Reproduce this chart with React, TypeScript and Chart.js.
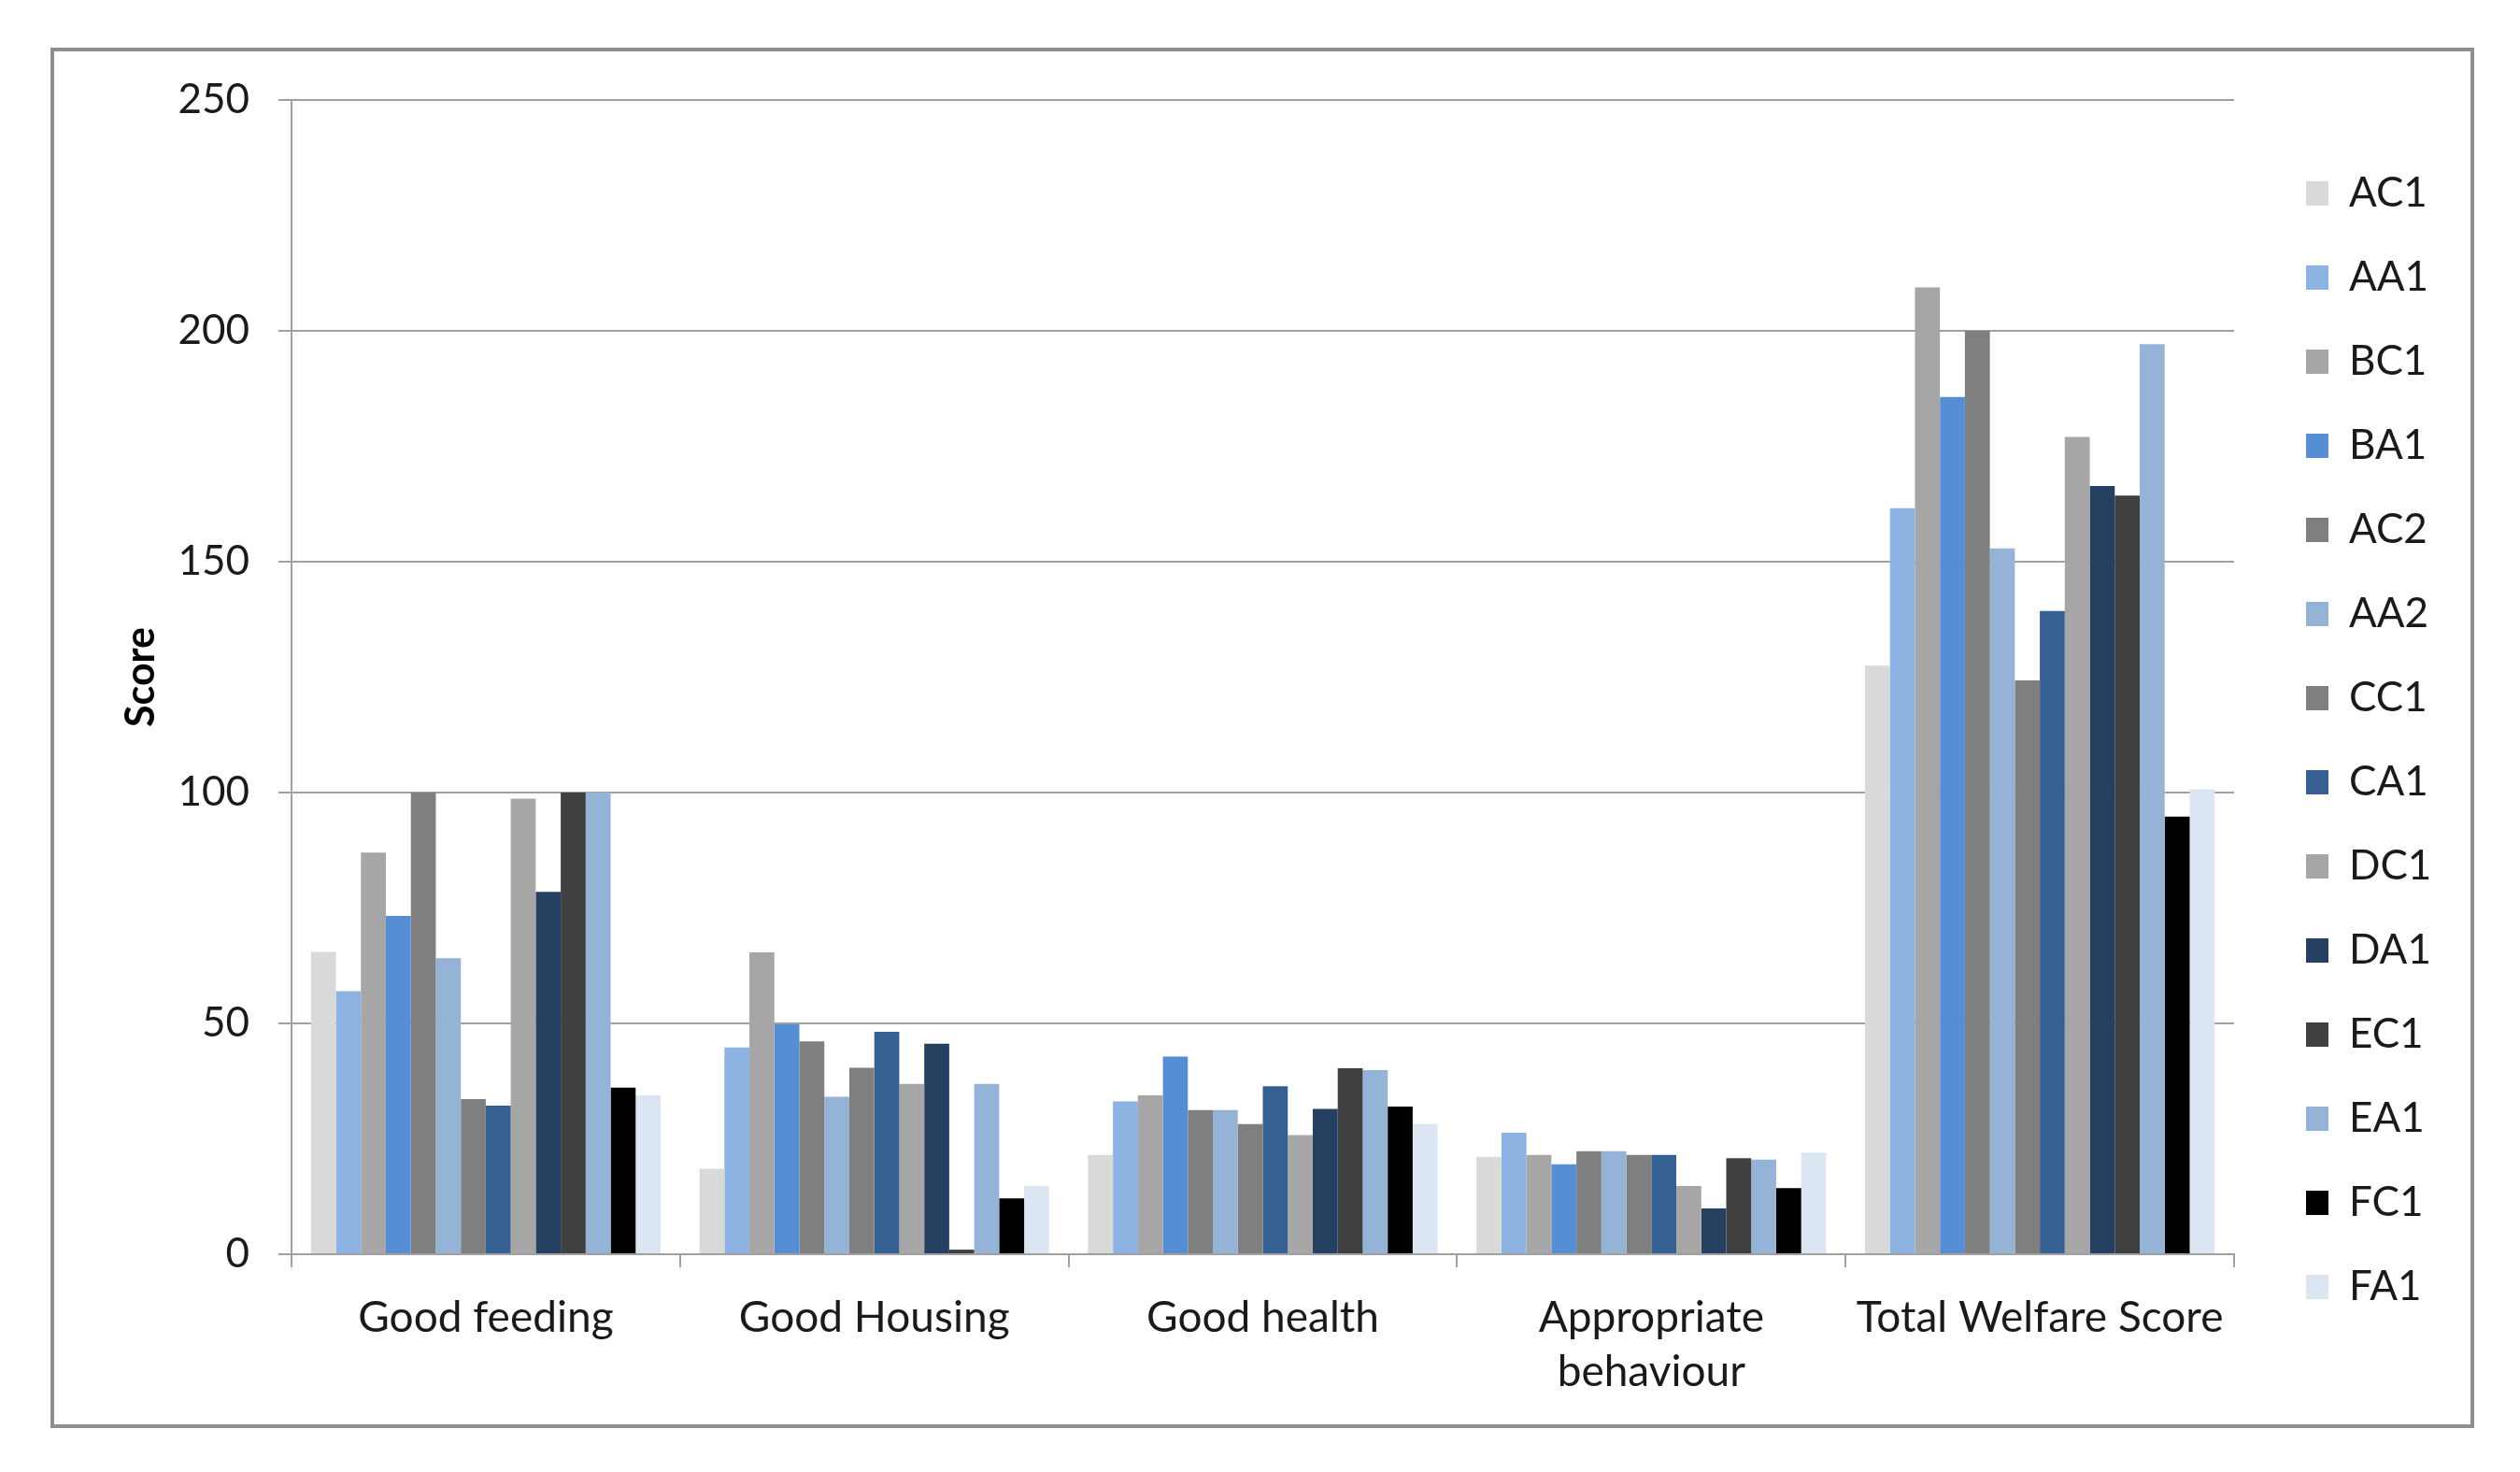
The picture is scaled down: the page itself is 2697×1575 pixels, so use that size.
import React, { useEffect, useRef } from 'react';
import { Chart, registerables } from 'chart.js';

Chart.register(...registerables);

// ---- Data ----
const categories: (string | string[])[] = [
  'Good feeding',
  'Good Housing',
  'Good health',
  ['Appropriate', 'behaviour'],
  'Total Welfare Score',
];

const seriesNames = ['AC1', 'AA1', 'BC1', 'BA1', 'AC2', 'AA2', 'CC1', 'CA1', 'DC1', 'DA1', 'EC1', 'EA1', 'FC1', 'FA1'];

const AC1 = [65.5, 18.5, 21.5, 21.1, 127.5];
const AA1 = [57, 44.8, 33.1, 26.3, 161.6];
const BC1 = [87, 65.4, 34.4, 21.5, 209.4];
const BA1 = [73.3, 49.8, 42.8, 19.5, 185.7];
const AC2 = [100, 46.1, 31.2, 22.3, 200];
const AA2 = [64.1, 34.1, 31.2, 22.3, 152.9];
const CC1 = [33.6, 40.4, 28.2, 21.5, 124.3];
const CA1 = [32.2, 48.2, 36.4, 21.5, 139.3];
const DC1 = [98.7, 36.9, 25.8, 14.8, 177];
const DA1 = [78.5, 45.6, 31.5, 9.9, 166.4];
const EC1 = [100, 1, 40.3, 20.8, 164.3];
const EA1 = [100, 36.9, 39.9, 20.5, 197.1];
const FC1 = [36.1, 12.1, 32, 14.3, 94.8];
const FA1 = [34.4, 14.8, 28.2, 22, 100.7];

const seriesValues = [AC1, AA1, BC1, BA1, AC2, AA2, CC1, CA1, DC1, DA1, EC1, EA1, FC1, FA1];

const seriesColors = [
  '#d9d9d9', '#8db3e2', '#a6a6a6', '#558ed5', '#7f7f7f', '#95b3d7', '#7f7f7f',
  '#376092', '#a6a6a6', '#254061', '#404040', '#95b3d7', '#000000', '#dce6f2',
];

const yMin = 0;
const yMax = 250;
const yStep = 50;

// ---- Layout constants ----
const W = 2697;
const H = 1575;
const LEGEND_WIDTH = 306;
const LEGEND_GAP = 31;
const LEGEND_SHIFT_Y = -20;
const FONT = 'Lato';
const TEXT = '#1a1a1a';
const GRID = '#a0a0a0';

const legendPlacement = {
  id: 'legendPlacement',
  beforeLayout(chart: any) {
    const lg = chart.legend;
    if (lg && !lg.__patched) {
      const orig = lg.fit;
      lg.fit = function () {
        orig.call(this);
        this.width = LEGEND_WIDTH;
      };
      lg.__patched = true;
    }
  },
  afterLayout(chart: any) {
    const lg = chart.legend;
    if (lg) {
      lg.left = chart.chartArea.right + LEGEND_GAP;
      lg.right = lg.left + lg.width;
      lg.top += LEGEND_SHIFT_Y;
      lg.bottom += LEGEND_SHIFT_Y;
    }
  },
};

export default function App() {
  const ref = useRef<HTMLCanvasElement>(null);

  useEffect(() => {
    document.body.style.margin = '0';
    const canvas = ref.current!;
    const chart = new Chart(canvas, {
      type: 'bar',
      data: {
        labels: categories as any,
        datasets: seriesNames.map((name, i) => ({
          label: name,
          data: seriesValues[i],
          backgroundColor: seriesColors[i],
          borderWidth: 0,
          categoryPercentage: 0.9,
          barPercentage: 1.0,
        })),
      },
      options: {
        responsive: false,
        devicePixelRatio: 1,
        animation: false,
        layout: { padding: { left: 100, top: 107, bottom: 58, right: 0 } },
        plugins: {
          tooltip: { enabled: false },
          legend: {
            position: 'right',
            labels: {
              font: { family: FONT, size: 44 },
              color: TEXT,
              boxWidth: 24,
              boxHeight: 26,
              padding: 46,
            },
          },
        },
        scales: {
          x: {
            grid: {
              display: true,
              drawOnChartArea: false,
              drawTicks: true,
              tickLength: 14,
              color: GRID,
              lineWidth: 2,
              offset: true,
            },
            border: { display: true, color: GRID, width: 2 },
            ticks: {
              font: { family: FONT, size: 46, lineHeight: 1.26 },
              color: TEXT,
              padding: 25,
              maxRotation: 0,
              autoSkip: false,
            },
            afterFit: (s: any) => {
              s.height = 175;
            },
          },
          y: {
            min: yMin,
            max: yMax,
            ticks: {
              stepSize: yStep,
              font: { family: FONT, size: 44 },
              color: TEXT,
              padding: 31,
            },
            grid: { color: GRID, lineWidth: 2, tickLength: 14 },
            border: { display: true, color: GRID, width: 2 },
            title: {
              display: true,
              text: 'Score',
              font: { family: FONT, size: 43, weight: 'bold' },
              color: '#000',
              padding: { top: 25, bottom: 0 },
            },
            afterFit: (s: any) => {
              s.width = 212;
            },
          },
        },
      },
      plugins: [legendPlacement],
    });
    return () => chart.destroy();
  }, []);

  return (
    <div style={{ position: 'relative', width: W, height: H, background: '#fff' }}>
      <canvas
        ref={ref}
        width={W}
        height={H}
        style={{ position: 'absolute', left: 0, top: 0, width: W, height: H }}
      />
      <div
        style={{
          position: 'absolute',
          left: 54,
          top: 51,
          width: 2594,
          height: 1477,
          boxSizing: 'border-box',
          border: '4px solid #8f8f8f',
          pointerEvents: 'none',
        }}
      />
    </div>
  );
}
